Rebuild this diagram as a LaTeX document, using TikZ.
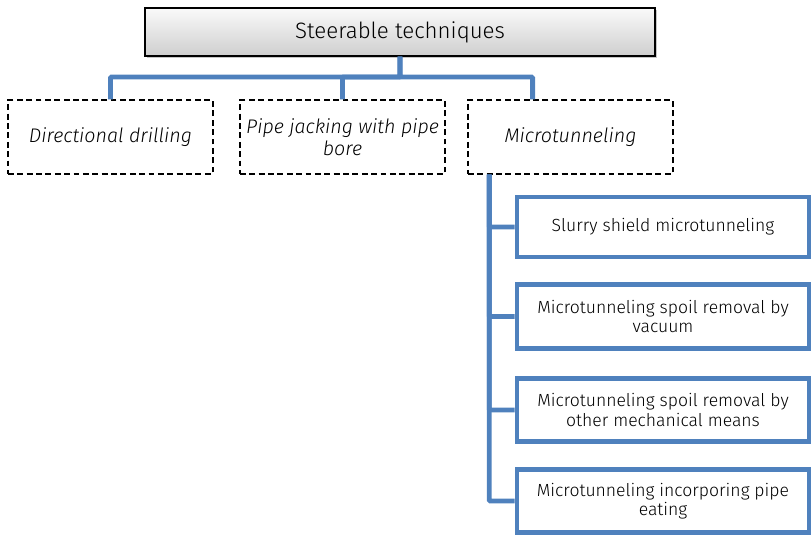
\documentclass[tikz,border=0pt]{standalone}
\usepackage{fontspec}
\setmainfont{Fira Sans}[UprightFont=* Light,ItalicFont=* Light Italic]
\usepackage{tikz}
\usetikzlibrary{positioning,calc,shadows}
\definecolor{branchBlue}{HTML}{4F81BD}

\tikzset{
  rootbox/.style={draw=black,line width=1.2pt,top color=gray!4,bottom color=gray!38,
    drop shadow={shadow xshift=1.5pt,shadow yshift=-2pt,opacity=0.45},
    minimum width=15.3cm,minimum height=1.44cm,font=\fontsize{19}{22}\selectfont},
  groupbox/.style={draw=black,line width=1.5pt,dash pattern=on 5pt off 3pt,
    minimum width=6.15cm,minimum height=2.2cm,align=center,inner sep=1pt,
    font=\fontsize{16.8}{18.8}\selectfont\itshape},
  leafbox/.style={draw=branchBlue,line width=4pt,fill=white,
    minimum width=8.76cm,minimum height=1.9cm,align=center,
    font=\fontsize{15}{16.6}\selectfont},
  branch/.style={draw=branchBlue,line width=4.2pt,rounded corners=1pt}
}

\begin{document}
\begin{tikzpicture}[x=0.03cm,y=-0.03cm]
  \useasboundingbox (0,0) rectangle (812,535);
  \clip (0,0) rectangle (812,535);

  \node[rootbox] (root) at (400,32) {Steerable techniques};

  \node[groupbox] (dd) at (110.5,137) {Directional drilling};
  \node[groupbox] (pj) at (342.5,137) {Pipe jacking with pipe\\bore};
  \node[groupbox] (mt) at (570.5,137) {Microtunneling};

  \node[leafbox,minimum height=1.8cm] (s1) at (663,227) {Slurry shield microtunneling};
  \node[leafbox] (s2) at (663,316.5) {Microtunneling spoil removal by\\vacuum};
  \node[leafbox] (s3) at (663,410) {Microtunneling spoil removal by\\other mechanical means};
  \node[leafbox] (s4) at (663,501) {Microtunneling incorporing pipe\\eating};

  % top level branches
  \coordinate (bar) at (0,77);
  \coordinate (mtin) at ($(mt.north west)!0.317!(mt.north east)$);
  \draw[branch] (root.south) -- (root.south |- bar) -| (dd.north);
  \draw[branch] (root.south) -- (root.south |- bar) -| (pj.north);
  \draw[branch] (root.south) -- (root.south |- bar) -| (mtin);

  % microtunneling sub-types
  \coordinate (trunk) at ($(mt.south west)!0.107!(mt.south east)$);
  \foreach \s in {s1,s2,s3,s4}
    \draw[branch] (trunk) |- (\s.west);
\end{tikzpicture}
\end{document}
